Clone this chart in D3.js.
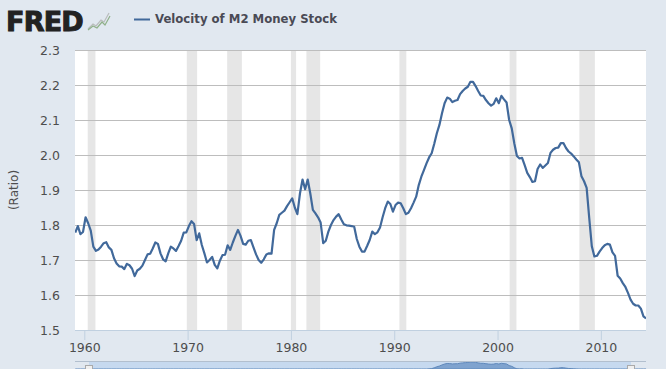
<!DOCTYPE html>
<html>
<head>
<meta charset="utf-8">
<script src="https://cdn.jsdelivr.net/npm/d3@7"></script>
<style>
html, body { margin: 0; padding: 0; background: #e1e8f0; overflow: hidden; }
svg { display: block; }
text { font-family: "DejaVu Sans", Verdana, sans-serif; }
</style>
</head>
<body>
<svg id="chart" width="667" height="369"></svg>
<script>
const seriesName = "Velocity of M2 Money Stock";
const yLabel = "(Ratio)";
const firstQuarter = 1959.125;

// quarterly values, 1959 Q1 to 2014 Q2
const velocity = [
    1.778, 1.797, 1.774, 1.780, 1.822, 1.805, 1.784, 1.738, 1.726, 1.730,
    1.738, 1.748, 1.751, 1.736, 1.729, 1.705, 1.690, 1.682, 1.681, 1.674,
    1.689, 1.685, 1.675, 1.654, 1.670, 1.675, 1.684, 1.700, 1.716, 1.718,
    1.733, 1.750, 1.746, 1.719, 1.702, 1.696, 1.719, 1.738, 1.733, 1.726,
    1.740, 1.755, 1.778, 1.779, 1.797, 1.811, 1.803, 1.757, 1.776, 1.743,
    1.719, 1.693, 1.700, 1.709, 1.686, 1.676, 1.698, 1.714, 1.715, 1.742,
    1.729, 1.750, 1.769, 1.786, 1.769, 1.746, 1.744, 1.755, 1.757, 1.736,
    1.716, 1.700, 1.692, 1.702, 1.716, 1.719, 1.718, 1.786, 1.805, 1.829,
    1.835, 1.841, 1.854, 1.865, 1.876, 1.850, 1.831, 1.890, 1.930, 1.902,
    1.930, 1.890, 1.843, 1.833, 1.822, 1.807, 1.748, 1.755, 1.781, 1.800,
    1.814, 1.824, 1.831, 1.816, 1.802, 1.799, 1.798, 1.797, 1.795, 1.760,
    1.738, 1.724, 1.724, 1.740, 1.757, 1.781, 1.774, 1.779, 1.793, 1.822,
    1.848, 1.867, 1.860, 1.838, 1.857, 1.864, 1.862, 1.848, 1.831, 1.835,
    1.848, 1.864, 1.881, 1.914, 1.938, 1.957, 1.976, 1.993, 2.005, 2.032,
    2.062, 2.086, 2.119, 2.148, 2.164, 2.161, 2.151, 2.155, 2.157, 2.174,
    2.183, 2.190, 2.195, 2.209, 2.209, 2.197, 2.183, 2.170, 2.169, 2.157,
    2.148, 2.141, 2.146, 2.162, 2.148, 2.169, 2.159, 2.150, 2.100, 2.076,
    2.033, 1.997, 1.990, 1.992, 1.971, 1.949, 1.937, 1.923, 1.925, 1.960,
    1.973, 1.963, 1.970, 1.977, 2.006, 2.015, 2.020, 2.021, 2.034, 2.034,
    2.020, 2.010, 2.004, 1.996, 1.987, 1.979, 1.939, 1.925, 1.906, 1.820,
    1.739, 1.710, 1.712, 1.724, 1.734, 1.742, 1.746, 1.744, 1.722, 1.712,
    1.655, 1.647, 1.634, 1.623, 1.606, 1.587, 1.575, 1.570, 1.570, 1.561,
    1.539, 1.533
];
const recessions = [
    [1960.33, 1961.08], [1969.92, 1970.92], [1973.83, 1975.25], [1980.0, 1980.5],
    [1981.5, 1982.83], [1990.5, 1991.17], [2001.17, 2001.83], [2007.92, 2009.42]
];
const xTicks = [1960, 1970, 1980, 1990, 2000, 2010];
const yTicks = [1.5, 1.6, 1.7, 1.8, 1.9, 2.0, 2.1, 2.2, 2.3];
const logoLines = [
    {color: "#b9bcbc", points: [[88, 29], [93, 24], [96, 26], [101, 20], [104, 22], [109, 13]]},
    {color: "#8fb089", points: [[88, 30], [93, 26], [97, 28], [102, 22], [105, 25], [110, 16]]}
];

const plotLeft = 75, plotRight = 646, plotTop = 50, plotBottom = 330;
const lineColor = "#41699b";
const textColor = "#4d4d4d";

const x = d3.scaleLinear().domain([1959.1, 2014.37]).range([plotLeft, plotRight]);
const y = d3.scaleLinear().domain([1.5, 2.3]).range([plotBottom, plotTop]);
const yNav = d3.scaleLinear().domain([1.5, 2.21]).range([385, 362]);

const quarters = velocity.map((v, i) => ({date: firstQuarter + i / 4, value: v}));

const svg = d3.select("#chart");

svg.append("defs").append("clipPath")
    .attr("id", "plot-clip")
    .append("rect")
    .attr("x", plotLeft)
    .attr("y", plotTop)
    .attr("width", plotRight - plotLeft)
    .attr("height", plotBottom - plotTop);

// plot background and recession bars
svg.append("rect")
    .attr("x", plotLeft)
    .attr("y", plotTop)
    .attr("width", plotRight - plotLeft)
    .attr("height", plotBottom - plotTop)
    .attr("fill", "white");

svg.append("rect")
    .attr("x", 666)
    .attr("y", 0)
    .attr("width", 1)
    .attr("height", 369)
    .attr("fill", "white");

svg.append("g")
    .selectAll("rect")
    .data(recessions)
    .join("rect")
    .attr("x", d => x(d[0]))
    .attr("y", plotTop)
    .attr("width", d => x(d[1]) - x(d[0]))
    .attr("height", plotBottom - plotTop)
    .attr("fill", "#e6e6e6");

// y axis with gridlines
const yAxis = svg.append("g")
    .attr("transform", `translate(${plotLeft},0)`)
    .call(d3.axisLeft(y).tickValues(yTicks).tickFormat(d3.format(".1f")).tickSize(0).tickPadding(15));
yAxis.select(".domain").remove();
yAxis.selectAll("text")
    .attr("font-size", 12.5)
    .attr("font-family", "DejaVu Sans")
    .attr("fill", textColor);
yAxis.selectAll(".tick line")
    .attr("x2", plotRight - plotLeft)
    .attr("stroke", d => d === 1.5 ? "none" : "#bdbdbd");

// x axis
const xAxis = svg.append("g")
    .attr("transform", `translate(0,${plotBottom})`)
    .call(d3.axisBottom(x).tickValues(xTicks).tickFormat(d3.format("d")).tickSize(10).tickPadding(-1));
xAxis.select(".domain")
    .attr("d", `M${plotLeft},0.5H${plotRight}`)
    .attr("stroke", "#c0d0e0");
xAxis.selectAll(".tick line").attr("stroke", "#c0d0e0");
xAxis.selectAll("text")
    .attr("font-size", 12.5)
    .attr("font-family", "DejaVu Sans")
    .attr("fill", textColor)
    .attr("dy", "1.05em");

// the series
const line = d3.line()
    .x(d => x(d.date))
    .y(d => y(d.value));

svg.append("path")
    .datum(quarters)
    .attr("clip-path", "url(#plot-clip)")
    .attr("d", line)
    .attr("fill", "none")
    .attr("stroke", lineColor)
    .attr("stroke-width", 2.2)
    .attr("stroke-linejoin", "round");

svg.append("text")
    .attr("transform", "translate(18,190) rotate(-90)")
    .attr("text-anchor", "middle")
    .attr("font-size", 12)
    .attr("fill", textColor)
    .text(yLabel);

// header: logo and legend
svg.append("text")
    .attr("x", 6)
    .attr("y", 30.5)
    .attr("font-size", 27)
    .attr("font-weight", "bold")
    .attr("letter-spacing", -0.8)
    .attr("fill", "#222")
    .attr("stroke", "#222")
    .attr("stroke-width", 1)
    .text("FRED");

svg.append("g")
    .selectAll("path")
    .data(logoLines)
    .join("path")
    .attr("d", d => d3.line()(d.points))
    .attr("fill", "none")
    .attr("stroke", d => d.color)
    .attr("stroke-width", 1.2);

svg.append("line")
    .attr("x1", 134)
    .attr("x2", 150)
    .attr("y1", 19.5)
    .attr("y2", 19.5)
    .attr("stroke", lineColor)
    .attr("stroke-width", 2);

svg.append("text")
    .attr("x", 155)
    .attr("y", 23)
    .attr("font-size", 11.7)
    .attr("font-weight", "bold")
    .attr("fill", "#4a4a55")
    .text(seriesName);

// range navigator, cut off by the bottom of the window
const navSelected = [89, 631];

svg.append("rect")
    .attr("x", navSelected[0])
    .attr("y", 361)
    .attr("width", navSelected[1] - navSelected[0])
    .attr("height", 8)
    .attr("fill", "#c6d9ef");

const navArea = d3.area()
    .x(d => x(d.date))
    .y0(369)
    .y1(d => yNav(d.value));

svg.append("path")
    .datum(quarters)
    .attr("d", navArea)
    .attr("fill", "#7fa3cf")
    .attr("stroke", "#5f88bb")
    .attr("stroke-width", 1);

svg.append("line")
    .attr("x1", plotLeft)
    .attr("x2", plotRight)
    .attr("y1", 361.5)
    .attr("y2", 361.5)
    .attr("stroke", "#b2bfce");

svg.append("g")
    .selectAll("rect")
    .data(navSelected)
    .join("rect")
    .attr("x", d => d - 3.5)
    .attr("y", 365.5)
    .attr("width", 7)
    .attr("height", 8)
    .attr("fill", "#f0f0f0")
    .attr("stroke", "#aaa");
</script>
</body>
</html>
